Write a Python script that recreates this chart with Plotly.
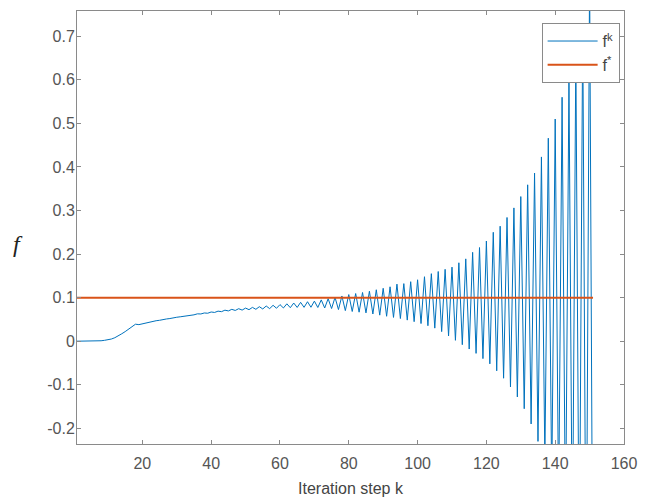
import plotly.graph_objects as go

# iteration index
k = list(range(1, 152))

# f^k values (k = 1 .. 151)
fk = [
    0.0, 0.0, 0.0, 0.0, 0.0005, 0.0005, 0.001, 0.001, 0.002, 0.003,
    0.005, 0.008, 0.012, 0.017, 0.022, 0.028, 0.034, 0.039, 0.038, 0.040,
    0.042, 0.044, 0.045, 0.047, 0.048, 0.050, 0.051, 0.052, 0.054, 0.055,
    0.056, 0.057, 0.058, 0.060, 0.0605, 0.0628, 0.0625, 0.0648, 0.0642, 0.067,
    0.066, 0.069, 0.0678, 0.0712, 0.0695, 0.0731, 0.0706, 0.0746, 0.0714, 0.076,
    0.0724, 0.0776, 0.0732, 0.0792, 0.074, 0.0808, 0.0748, 0.0824, 0.0756, 0.084,
    0.0763, 0.0858, 0.0769, 0.0876, 0.0775, 0.0892, 0.0777, 0.0906, 0.0779, 0.092,
    0.0774, 0.0948, 0.0762, 0.0976, 0.075, 0.1006, 0.0726, 0.1038, 0.0702, 0.107,
    0.0682, 0.1094, 0.0666, 0.1118, 0.065, 0.1147, 0.0624, 0.1181, 0.0598, 0.1215,
    0.0572, 0.1249, 0.0546, 0.131, 0.052, 0.1322, 0.0484, 0.1366, 0.0448, 0.141,
    0.0405, 0.148, 0.0355, 0.155, 0.030, 0.160, 0.022, 0.165, 0.012, 0.170,
    0.002, 0.180, -0.008, 0.189, -0.018, 0.204, -0.028, 0.215, -0.040, 0.230,
    -0.052, 0.250, -0.068, 0.264, -0.085, 0.284, -0.105, 0.306, -0.128, 0.332,
    -0.155, 0.359, -0.190, 0.386, -0.230, 0.423, -0.275, 0.466, -0.330, 0.510,
    -0.380, 0.560, -0.440, 0.600, -0.500, 0.660, -0.570, 0.730, -0.650, 0.850,
    -0.750,
]

# optimal value line f*
fstar_x = [1, 151]
fstar_y = [0.1, 0.1]

# tick labels
x_tickvals = [20, 40, 60, 80, 100, 120, 140, 160]
x_ticktext = ["20", "40", "60", "80", "100", "120", "140", "160"]
y_tickvals = [-0.2, -0.1, 0, 0.1, 0.2, 0.3, 0.4, 0.5, 0.6, 0.7]
y_ticktext = ["-0.2", "-0.1", "0", "0.1", "0.2", "0.3", "0.4", "0.5", "0.6", "0.7"]

fig = go.Figure()
fig.add_trace(go.Scatter(x=k, y=fk, mode="lines", name="f<sup>k</sup>",
                         line=dict(color="#0072BD", width=1)))
fig.add_trace(go.Scatter(x=fstar_x, y=fstar_y, mode="lines", name="f<sup>*</sup>",
                         line=dict(color="#D95319", width=2)))

axis_common = dict(showline=True, linecolor="#8a8a8a", linewidth=1, mirror="ticks",
                   ticks="inside", ticklen=4, tickcolor="#8a8a8a", showgrid=False,
                   zeroline=False, tickfont=dict(family="Liberation Sans, Arial", size=16, color="#555555"))

fig.update_layout(
    width=647, height=504,
    margin=dict(l=77, r=15, t=10, b=57),
    paper_bgcolor="white", plot_bgcolor="white",
    xaxis=dict(range=[1, 160], tickvals=x_tickvals, ticktext=x_ticktext,
               ticklabelstandoff=5,
               title=dict(text="Iteration step k", standoff=11,
                          font=dict(family="Liberation Sans, Arial", size=16, color="#444444")),
               **axis_common),
    yaxis=dict(range=[-0.236, 0.758], tickvals=y_tickvals, ticktext=y_ticktext,
               ticklabelstandoff=-2,
               **axis_common),
    legend=dict(x=0.992, y=0.972, xanchor="right", yanchor="top",
                bgcolor="white", bordercolor="#8a8a8a", borderwidth=1,
                font=dict(family="Liberation Sans, Arial", size=16, color="#444444"),
                itemwidth=50, tracegroupgap=2),
    showlegend=True,
    annotations=[dict(text="<i>f</i>", xref="paper", yref="paper", x=-0.108, y=0.462,
                      xanchor="center", yanchor="middle",
                      showarrow=False, font=dict(family="Liberation Serif, Times New Roman", size=24, color="#222222"))],
)

fig.write_html("out.html")
